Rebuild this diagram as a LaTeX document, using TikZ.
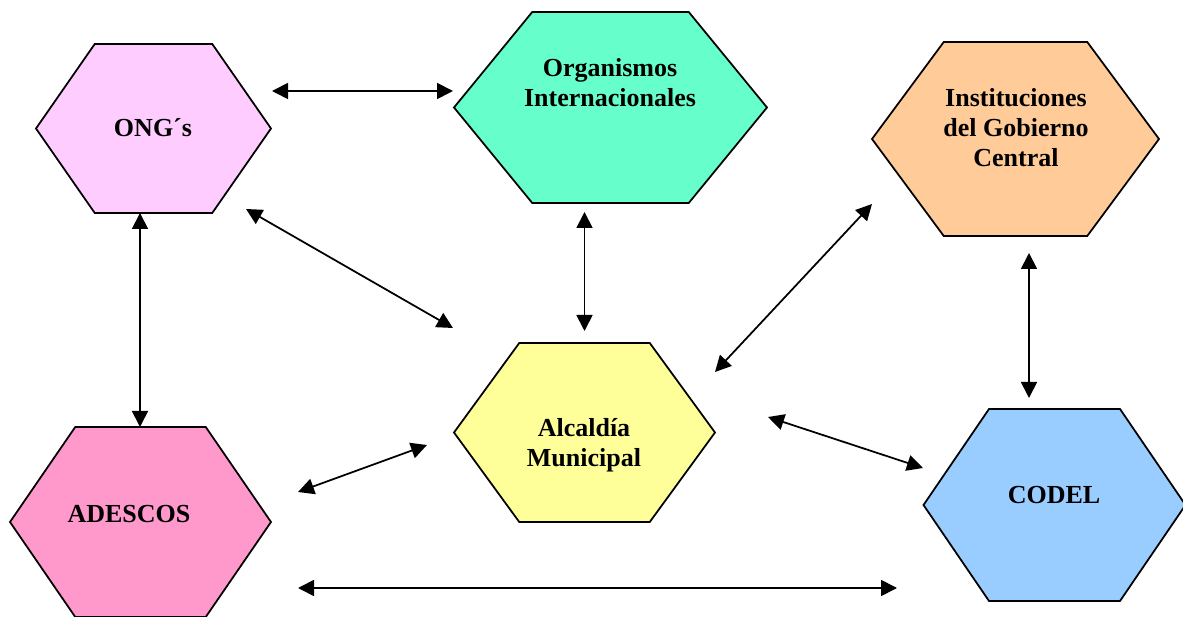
\documentclass[tikz,border=0pt]{standalone}
\usepackage{fontspec}
\setmainfont{Liberation Serif}
\usetikzlibrary{arrows.meta}
\definecolor{ong}{HTML}{FFCCFF}
\definecolor{org}{HTML}{66FFCC}
\definecolor{inst}{HTML}{FFCC99}
\definecolor{ades}{HTML}{FF99CC}
\definecolor{alc}{HTML}{FFFF99}
\definecolor{codel}{HTML}{99CCFF}
\newcommand\hexa[4]{\filldraw[fill=#4] (#1) ++(-#2,0) -- ++(#2/2,#3) -- ++(#2,0)
  -- ++(#2/2,-#3) -- ++(-#2/2,-#3) -- ++(-#2,0) -- cycle;}

\begin{document}
\begin{tikzpicture}[x=0.02cm,y=-0.02cm,line width=1pt,
    >={Triangle[length=0.32cm,width=0.32cm]},
    lbl/.style={font=\bfseries\fontsize{14.8}{17.1}\selectfont,align=center}]
    \useasboundingbox (0,0) rectangle (1183,617);

    \hexa{153.5,128.5}{117.5}{84.5}{ong}
    \hexa{610.5,107.5}{156.5}{95.5}{org}
    \hexa{1015.5,139}{143.5}{97}{inst}
    \hexa{140.5,522}{130.5}{95}{ades}
    \hexa{584.5,432.5}{130.5}{89.5}{alc}
    \hexa{1054.5,505}{131}{96}{codel}

    \path
    (153,128) node[lbl] (Ong) {ONG´s}
    (610,83) node[lbl] (Org) {Organismos\\Internacionales}
    (1016,128) node[lbl] (Inst) {Instituciones\\del Gobierno\\Central}
    (129,514) node[lbl] (Ades) {ADESCOS}
    (584,445) node[lbl] (Alc) {Alcaldía\\Municipal}
    (1054,495) node[lbl] (Codel) {CODEL}
    ;

    \path
    (272,91) coordinate (ongOrg)
    (453,91) coordinate (orgOng)
    (246,209) coordinate (ongAlc)
    (453,328) coordinate (alcOng)
    (140,213) coordinate (ongAdes)
    (140,427) coordinate (adesOng)
    (584.5,212) coordinate (orgAlc)
    (584.5,331) coordinate (alcOrg)
    (872,204) coordinate (instAlc)
    (715,372) coordinate (alcInst)
    (1029,253) coordinate (instCodel)
    (1029,398) coordinate (codelInst)
    (298,492) coordinate (adesAlc)
    (427,445) coordinate (alcAdes)
    (768,417) coordinate (alcCodel)
    (923,468) coordinate (codelAlc)
    (298,588) coordinate (adesCodel)
    (897,588) coordinate (codelAdes)
    ;
    \draw[<->] (ongOrg) -- (orgOng);
    \draw[<->] (ongAlc) -- (alcOng);
    \draw[<->] (ongAdes) -- (adesOng);
    \draw[<->] (orgAlc) -- (alcOrg);
    \draw[<->] (instAlc) -- (alcInst);
    \draw[<->] (instCodel) -- (codelInst);
    \draw[<->] (adesAlc) -- (alcAdes);
    \draw[<->] (alcCodel) -- (codelAlc);
    \draw[<->] (adesCodel) -- (codelAdes);
\end{tikzpicture}
\end{document}
